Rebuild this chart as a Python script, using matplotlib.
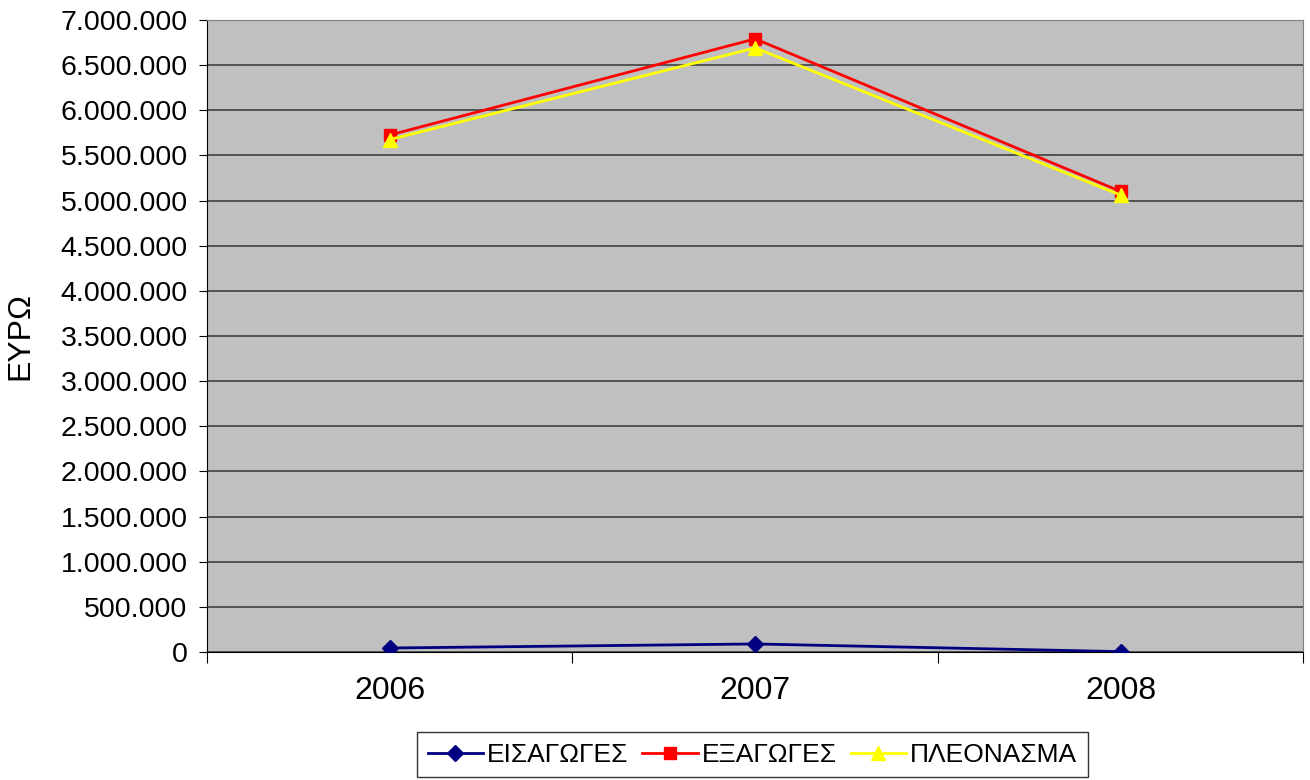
import matplotlib.pyplot as plt
from matplotlib.ticker import FuncFormatter, MultipleLocator

plt.rcParams['font.family'] = ['Liberation Sans', 'DejaVu Sans']

# -----------------------------
# Data
# -----------------------------
years = ["2006", "2007", "2008"]
imports = [45000, 90000, 5000]          # ΕΙΣΑΓΩΓΕΣ
exports = [5725000, 6790000, 5100000]   # ΕΞΑΓΩΓΕΣ
surplus = [5675000, 6690000, 5060000]   # ΠΛΕΟΝΑΣΜΑ

x = list(range(len(years)))

fig = plt.figure(figsize=(13.1, 7.8), dpi=100)
ax = fig.add_axes([0.158, 0.164, 0.837, 0.8105])
ax.set_facecolor("#C0C0C0")

ax.plot(x, imports, color="#000080", marker="D", markersize=8, lw=2, label="ΕΙΣΑΓΩΓΕΣ", zorder=3)
ax.plot(x, exports, color="#FF0000", marker="s", markersize=9, lw=2, label="ΕΞΑΓΩΓΕΣ", zorder=3)
ax.plot(x, surplus, color="#FFFF00", marker="^", markersize=10, lw=2, label="ΠΛΕΟΝΑΣΜΑ", zorder=4)

# -----------------------------
# Axes
# -----------------------------
ax.set_xlim(-0.5, 2.5)
ax.set_ylim(0, 7000000)
ax.yaxis.set_major_locator(MultipleLocator(500000))
ax.yaxis.set_major_formatter(FuncFormatter(lambda v, p: f"{int(v):,}".replace(",", ".")))
ax.grid(axis="y", color="#404040", lw=1.2)
ax.set_axisbelow(True)

ax.set_xticks([-0.5, 0.5, 1.5, 2.5])
ax.set_xticklabels([])
ax.set_xticks(x, minor=True)
ax.set_xticklabels(years, minor=True)
ax.tick_params(axis="x", which="major", length=8, color="black")
ax.tick_params(axis="x", which="minor", length=0, labelsize=23, pad=17)
ax.tick_params(axis="y", length=6, labelsize=20.5, pad=8)

for s in ["top", "right"]:
    ax.spines[s].set_color("#808080")
for s in ["left", "bottom"]:
    ax.spines[s].set_color("black")

ax.set_ylabel("ΕΥΡΩ", fontsize=23, labelpad=18)

leg = fig.legend(loc="lower center", bbox_to_anchor=(0.5744, 0.0), ncol=3,
                 fontsize=19, frameon=True, fancybox=False, edgecolor="black",
                 handlelength=2.1, columnspacing=0.53, handletextpad=0.15,
                 borderpad=0.4, borderaxespad=0.1)
leg.get_frame().set_linewidth(1.0)

fig.savefig("out.png", dpi=100)
